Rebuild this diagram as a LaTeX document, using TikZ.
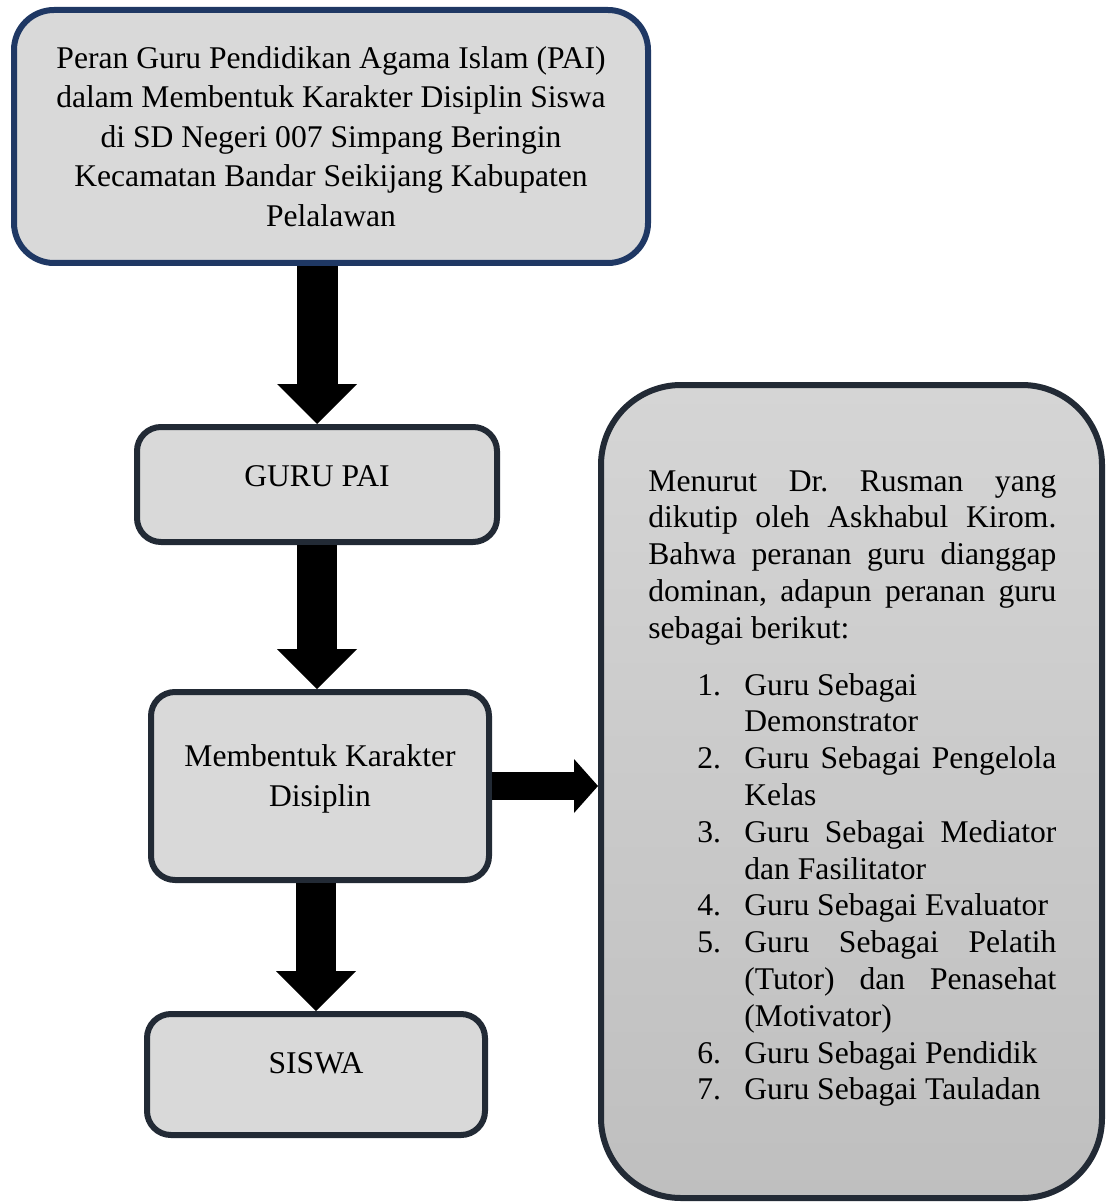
\documentclass[tikz,border=0pt]{standalone}
\usepackage{fontspec}
\setmainfont{Liberation Serif}
\usepackage{enumitem}
\usetikzlibrary{calc, arrows.meta, positioning}
\setlength{\parindent}{0pt}
\hbadness=10000
\definecolor{boxgray}{HTML}{D9D9D9}
\definecolor{navyline}{HTML}{1F3864}
\definecolor{slateline}{HTML}{222A35}
\definecolor{paneltop}{HTML}{D5D5D5}
\definecolor{panelbot}{HTML}{BFBFBF}
\tikzset{
  box/.style = {draw = slateline, line width = 3pt, fill = boxgray, rounded corners = 12pt, inner sep = 0pt},
  boxtext/.style = {inner sep = 0pt, font = \fontsize{15.8pt}{19.75pt}\selectfont},
  blockarrow/.style = {line width = 20pt, -{Triangle[width = 40pt, length = 20pt, line width = 0pt]}}
}

\begin{document}
\begin{tikzpicture}[x = 0.5pt, y = -0.5pt]
\useasboundingbox (0,0) rectangle (1115,1203);

\node[box, draw = navyline, rounded corners = 20pt, minimum width = 317pt, minimum height = 126.5pt, align = center, font = \fontsize{15.8pt}{19.75pt}\selectfont] (peran) at (331, 136.5) {Peran Guru Pendidikan Agama Islam (PAI)\\ dalam Membentuk Karakter Disiplin Siswa\\ di SD Negeri 007 Simpang Beringin\\ Kecamatan Bandar Seikijang Kabupaten\\ Pelalawan};

\node[box, minimum width = 180pt, minimum height = 57.5pt] (guru) at (317, 484.5) {};
\node[boxtext] (guru-t) at ([yshift = 4pt]guru.center) {GURU PAI};

\node[box, minimum width = 169pt, minimum height = 94pt] (karakter) at (320, 786) {};
\node[boxtext, align = center] (karakter-t) at ([yshift = 3.5pt]karakter.center) {Membentuk Karakter\\ Disiplin};

\node[box, minimum width = 169pt, minimum height = 60.5pt] (siswa) at (316, 1074.5) {};
\node[boxtext] (siswa-t) at ([yshift = 5.5pt]siswa.center) {SISWA};

\node[box, rounded corners = 40pt, top color = paneltop, bottom color = panelbot, minimum width = 250.5pt, minimum height = 406.5pt] (rusman) at (851.5, 791.5) {};
\node[anchor = north west, inner sep = 0pt, text width = 204pt, align = justify, font = \fontsize{15.8pt}{18.4pt}\selectfont] (rusman-t) at (648, 470) {\frenchspacing
Menurut Dr. Rusman yang\linebreak dikutip oleh Askhabul Kirom.\linebreak Bahwa peranan guru dianggap\linebreak dominan, adapun peranan guru\linebreak sebagai berikut:
\begin{enumerate}[leftmargin = 48pt, labelwidth = 23.5pt, labelsep = 0pt, itemindent = 0pt, align = left, itemsep = 0pt, parsep = 0pt, topsep = 10pt, partopsep = 0pt]
\item Guru Sebagai\newline Demonstrator
\item Guru Sebagai Pengelola\linebreak Kelas
\item Guru Sebagai Mediator\linebreak dan Fasilitator
\item Guru Sebagai Evaluator
\item Guru Sebagai Pelatih\linebreak (Tutor) dan Penasehat\linebreak (Motivator)
\item Guru Sebagai Pendidik
\item Guru Sebagai Tauladan
\end{enumerate}};

\draw[blockarrow, line width = 20.5pt] (peran.south -| guru.north) -- (guru.north);
\draw[blockarrow] (guru.south) -- (guru.south |- karakter.north);
\draw[blockarrow] (karakter.south -| siswa.north) -- (siswa.north);
\draw[line width = 14pt, -{Triangle[width = 27pt, length = 12pt, line width = 0pt]}] (karakter.east) -- (karakter.east -| rusman.west);

\end{tikzpicture}
\end{document}
